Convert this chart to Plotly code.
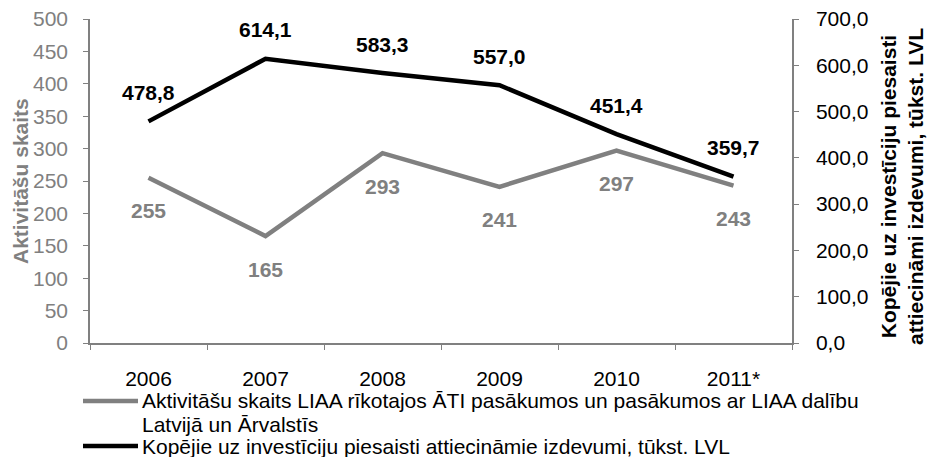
import plotly.graph_objects as go

years = ["2006", "2007", "2008", "2009", "2010", "2011*"]
activities = [255, 165, 293, 241, 297, 243]
expenses = [478.8, 614.1, 583.3, 557.0, 451.4, 359.7]
left_ticks = [0, 50, 100, 150, 200, 250, 300, 350, 400, 450, 500]
right_ticks = [0, 100, 200, 300, 400, 500, 600, 700]

legend_lines_act = ["Aktivitāšu skaits LIAA rīkotajos ĀTI pasākumos un pasākumos ar LIAA dalību",
                    "Latvijā un Ārvalstīs"]
legend_lines_exp = ["Kopējie uz investīciju piesaisti attiecināmie izdevumi, tūkst. LVL"]
title_left = "Aktivitāšu skaits"
title_right = "Kopējie uz investīciju piesaisti<br>attiecināmi izdevumi, tūkst. LVL"

GRAY = "#808080"
BLACK = "#000000"
FONT = "Liberation Sans, Arial, sans-serif"
FS = 21

W, H = 927, 457
L, R, T, B = 90, 135, 19, 114
PW, PH = W - L - R, H - T - B

def px_x(x):
    return (x - L) / PW

def px_y(y):
    return (H - B - y) / PH

fig = go.Figure()
fig.add_trace(go.Scatter(x=years, y=activities, mode="lines", name=" ".join(legend_lines_act),
                         line=dict(color=GRAY, width=4.5), yaxis="y", showlegend=False))
fig.add_trace(go.Scatter(x=years, y=expenses, mode="lines", name=legend_lines_exp[0],
                         line=dict(color=BLACK, width=4.5), yaxis="y2", showlegend=False))

def fmt(v):
    return f"{v:.1f}".replace(".", ",")

for i, v in enumerate(activities):
    fig.add_annotation(x=i, y=v, xref="x", yref="y", text=f"<b>{v}</b>",
                       showarrow=False, yshift=-33,
                       font=dict(family=FONT, size=FS, color=GRAY))
for i, v in enumerate(expenses):
    fig.add_annotation(x=i, y=v, xref="x", yref="y2", text=f"<b>{fmt(v)}</b>",
                       showarrow=False, yshift=29,
                       font=dict(family=FONT, size=FS, color=BLACK))

# manual legend (matches the reference's tight line spacing)
leg_rows = [(legend_lines_act[0], 401), (legend_lines_act[1], 424), (legend_lines_exp[0], 446)]
for txt, ypx in leg_rows:
    fig.add_annotation(x=px_x(140), y=px_y(ypx), xref="paper", yref="paper",
                       xanchor="left", yanchor="middle", text=txt, showarrow=False,
                       font=dict(family=FONT, size=FS, color=BLACK))
for color, ypx in [(GRAY, 401), (BLACK, 446)]:
    fig.add_shape(type="line", xref="paper", yref="paper",
                  x0=px_x(83), x1=px_x(138), y0=px_y(ypx), y1=px_y(ypx),
                  line=dict(color=color, width=4.5))

# axis titles
fig.add_annotation(x=px_x(20), y=px_y(181), xref="paper", yref="paper",
                   xanchor="center", yanchor="middle",
                   text=f"<b>{title_left}</b>", textangle=-90, showarrow=False,
                   font=dict(family=FONT, size=FS, color=GRAY))
fig.add_annotation(x=px_x(902), y=px_y(187), xref="paper", yref="paper",
                   xanchor="center", yanchor="middle",
                   text=f"<b>{title_right}</b>", textangle=-90, showarrow=False,
                   font=dict(family=FONT, size=FS, color=BLACK))

fig.update_layout(
    width=W, height=H,
    margin=dict(l=L, r=R, t=T, b=B, autoexpand=False),
    paper_bgcolor="white", plot_bgcolor="white",
    font=dict(family=FONT, size=FS, color=BLACK),
    showlegend=False,
    xaxis=dict(type="category", range=[-0.5, 5.5], showgrid=False,
               showline=True, linecolor=GRAY, linewidth=1.5,
               ticks="outside", tickson="boundaries", ticklen=5, tickcolor=GRAY,
               ticklabelstandoff=16,
               tickfont=dict(family=FONT, size=FS, color=BLACK),
               zeroline=False, automargin=False),
    yaxis=dict(range=[0, 500], tickvals=left_ticks, showgrid=False,
               showline=True, linecolor=GRAY, linewidth=1.5,
               ticks="outside", ticklen=5, tickcolor=GRAY, ticklabelstandoff=11,
               tickfont=dict(family=FONT, size=FS, color=GRAY),
               zeroline=False, automargin=False),
    yaxis2=dict(range=[0, 700], tickvals=right_ticks,
                ticktext=[fmt(t) for t in right_ticks],
                overlaying="y", side="right", showgrid=False,
                showline=True, linecolor=GRAY, linewidth=1.5,
                ticks="outside", ticklen=5, tickcolor=GRAY, ticklabelstandoff=13,
                tickfont=dict(family=FONT, size=FS, color=BLACK),
                zeroline=False, automargin=False),
)

fig.write_html("out.html", config={"displayModeBar": False},
               post_script="document.body.style.margin='0';")
